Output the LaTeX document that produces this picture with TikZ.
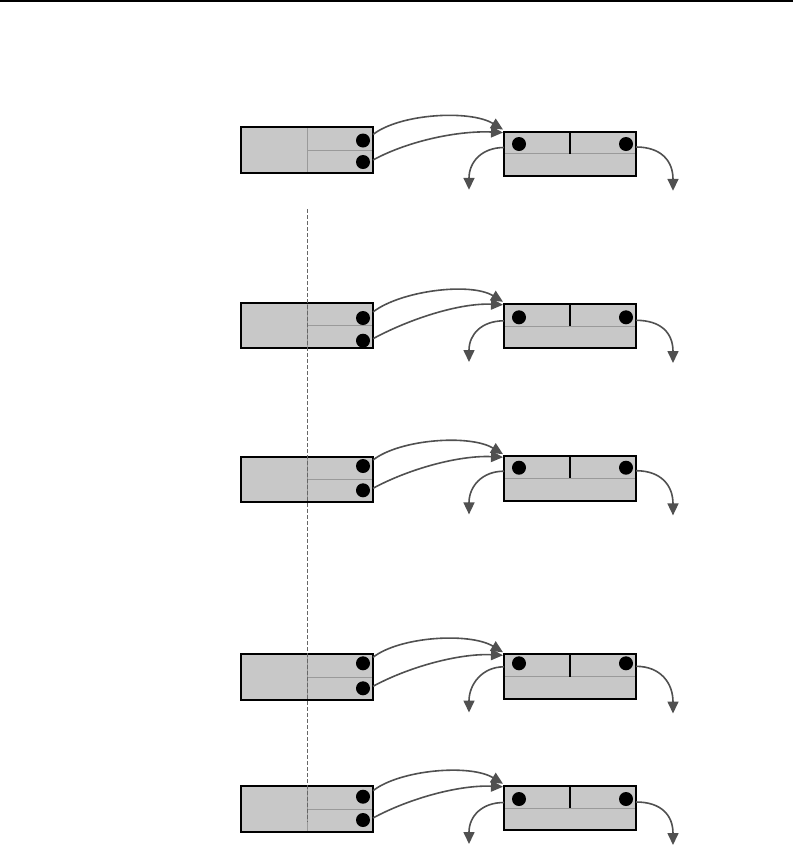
\documentclass[tikz,border=0pt]{standalone}
\usetikzlibrary{arrows.meta,calc}
\definecolor{boxfill}{HTML}{C8C8C8}
\definecolor{divgray}{HTML}{9A9A9A}
\definecolor{arrgray}{HTML}{505050}
\definecolor{guidegray}{HTML}{666666}
\begin{document}
\begin{tikzpicture}[x=1pt,y=-1pt,
  lbox/.style={draw=black,line width=2pt,fill=boxfill,minimum width=132pt,minimum height=45.5pt,inner sep=0pt,outer sep=0pt},
  rbox/.style={draw=black,line width=2pt,fill=boxfill,minimum width=132pt,minimum height=44.5pt,inner sep=0pt,outer sep=0pt},
  dot/.style={circle,fill=black,minimum size=14pt,inner sep=0pt,outer sep=0pt},
  divider/.style={draw=divgray,line width=1pt,shorten >=1pt,shorten <=1pt},
  blackdiv/.style={draw=black,line width=2pt},
  link/.style={draw=arrgray,line width=1.6pt,-{Triangle[length=12pt,width=11pt]}},
  guide/.style={draw=guidegray,line width=1pt,dash pattern=on 4pt off 2pt},
  rule/.style={draw=black,line width=2pt}]
\useasboundingbox (0,0) rectangle (793,863);
\coordinate (t1) at (0,1);
\coordinate (t2) at (793,1);
\draw[rule] (t1) -- (t2);
\foreach \i/\lc/\da/\db/\rc/\rd in {1/150/140.5/162/153.8/144,2/325.5/318/340.7/326/317.3,3/479.5/466/490.3/478.4/467.7,4/677/663.3/688.3/676.5/663.3,5/809/796.7/820/808/799}{
  \node[lbox] (L\i) at (307,\lc) {};
  \draw[divider] (L\i.north) -- (L\i.south);
  \draw[divider] (L\i.center) -- (L\i.east);
  \node[rbox] (R\i) at (570,\rc) {};
  \draw[divider] (R\i.west) -- (R\i.east);
  \draw[blackdiv] (R\i.north) -- (R\i.center);
  \node[dot] (a\i) at (363,\da) {};
  \node[dot] (b\i) at (363,\db) {};
  \node[dot] (c\i) at (519,\rd) {};
  \node[dot] (e\i) at (626,\rd) {};
  \draw[link] ($(L\i.east |- a\i)+(0,-6)$) .. controls +(27,-21) and +(-33,-20) .. ($(R\i.north west)+(-1,-2)$);
  \draw[link] ($(L\i.east |- b\i)+(0,-2)$) .. controls +(37,-20) and +(-43,-2) .. ($(R\i.north west)+(-1,1)$);
  \draw[link] ($(R\i.west |- c\i)+(0,3.5)$) .. controls +(-22,0) and +(0,-28) .. ($(R\i.west)+(-35,36)$);
  \draw[link] ($(R\i.east |- e\i)+(0,3)$) .. controls +(25,0) and +(0,-30) .. ($(R\i.east)+(37,37)$);
}
\coordinate (g1) at (307,209);
\coordinate (g2) at (307,822);
\draw[guide] (g1) -- (g2);
\end{tikzpicture}
\end{document}
